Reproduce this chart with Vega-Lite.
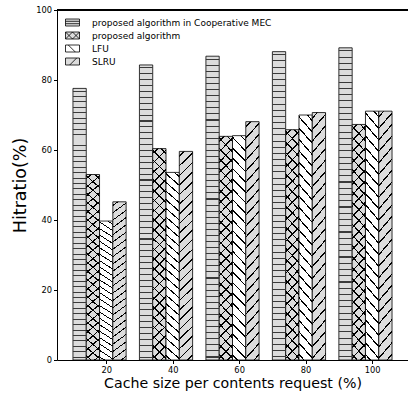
{
  "$schema": "https://vega.github.io/schema/vega-lite/v6.json",
  "width": 351,
  "height": 350,
  "autosize": "none",
  "padding": {"left": 57, "top": 10, "right": 0, "bottom": 33},
  "background": "white",
  "view": {"stroke": null},
  "config": {
    "font": "DejaVu Sans",
    "view": {"stroke": null},
    "axis": {"domainColor": "black", "tickColor": "black", "labelColor": "black", "titleColor": "black", "labelFont": "DejaVu Sans", "titleFont": "DejaVu Sans", "titleFontWeight": "normal", "grid": false}
  },
  "data": {
    "values": [
      {"cache": "20", "method": "proposed algorithm in Cooperative MEC", "hit": 77.6},
      {"cache": "20", "method": "proposed algorithm", "hit": 53.0},
      {"cache": "20", "method": "LFU", "hit": 39.7},
      {"cache": "20", "method": "SLRU", "hit": 45.2},
      {"cache": "40", "method": "proposed algorithm in Cooperative MEC", "hit": 84.3},
      {"cache": "40", "method": "proposed algorithm", "hit": 60.4},
      {"cache": "40", "method": "LFU", "hit": 53.6},
      {"cache": "40", "method": "SLRU", "hit": 59.6},
      {"cache": "60", "method": "proposed algorithm in Cooperative MEC", "hit": 86.8},
      {"cache": "60", "method": "proposed algorithm", "hit": 63.9},
      {"cache": "60", "method": "LFU", "hit": 64.1},
      {"cache": "60", "method": "SLRU", "hit": 68.1},
      {"cache": "80", "method": "proposed algorithm in Cooperative MEC", "hit": 88.1},
      {"cache": "80", "method": "proposed algorithm", "hit": 65.8},
      {"cache": "80", "method": "LFU", "hit": 70.0},
      {"cache": "80", "method": "SLRU", "hit": 70.7},
      {"cache": "100", "method": "proposed algorithm in Cooperative MEC", "hit": 89.2},
      {"cache": "100", "method": "proposed algorithm", "hit": 67.3},
      {"cache": "100", "method": "LFU", "hit": 71.1},
      {"cache": "100", "method": "SLRU", "hit": 71.1}
    ]
  },
  "encoding": {
    "x": {
      "field": "cache", "type": "nominal", "sort": ["20", "40", "60", "80", "100"],
      "scale": {"paddingInner": 0.2, "paddingOuter": 0.24},
      "axis": {"title": "Cache size per contents request (%)", "labelAngle": 0, "labelFontSize": 8.3, "tickSize": 3.5, "tickOffset": 6.65, "labelPadding": 2, "titleFontSize": 14.2, "titlePadding": 3}
    },
    "xOffset": {
      "field": "method", "type": "nominal",
      "sort": ["proposed algorithm in Cooperative MEC", "proposed algorithm", "LFU", "SLRU"],
      "scale": {"paddingInner": 0, "paddingOuter": 0}
    },
    "y": {
      "field": "hit", "type": "quantitative",
      "scale": {"domain": [0, 100], "nice": false},
      "axis": {"title": "Hitratio(%)", "values": [0, 20, 40, 60, 80, 100], "labelFontSize": 8.3, "tickSize": 3.5, "labelPadding": 2, "titleFontSize": 17.5, "titlePadding": 6}
    }
  },
  "layer": [
    {
      "mark": {"type": "bar", "stroke": "black", "strokeWidth": 0.8},
      "encoding": {
        "fill": {
          "field": "method", "type": "nominal",
          "sort": ["proposed algorithm in Cooperative MEC", "proposed algorithm", "LFU", "SLRU"],
          "scale": {"range": ["#dcdcdc", "#dcdcdc", "#ffffff", "#dcdcdc"]},
          "legend": {
            "title": null, "orient": "none", "legendX": 8, "legendY": 5, "padding": 0,
            "symbolType": "M-1,-0.5H1V0.5H-1Z", "symbolSize": 196, "symbolStrokeColor": "black", "symbolStrokeWidth": 0.8,
            "labelFontSize": 9, "labelFont": "DejaVu Sans", "labelColor": "black", "labelOffset": 12, "labelLimit": 0, "rowPadding": 0,
            "encode": {
              "symbols": {
                "update": {
                  "shape": [
                    {"test": "datum.value === 'proposed algorithm in Cooperative MEC'", "value": "M-1,-0.5H1V0.5H-1Z M-1,-0.17H1 M-1,0.17H1"},
                    {"test": "datum.value === 'proposed algorithm'", "value": "M-1,-0.5H1V0.5H-1Z M-1,-0.5L0,0.5 M-1,0.5L0,-0.5 M0,-0.5L1,0.5 M0,0.5L1,-0.5"},
                    {"test": "datum.value === 'LFU'", "value": "M-1,-0.5H1V0.5H-1Z M-0.6,-0.5L0.4,0.5"},
                    {"value": "M-1,-0.5H1V0.5H-1Z M-0.4,0.5L0.6,-0.5"}
                  ]
                }
              }
            }
          }
        }
      }
    },
    {
      "mark": {"type": "bar", "strokeWidth": 0},
      "encoding": {
        "fill": {
          "condition": [
            {"test": "datum.method === 'proposed algorithm in Cooperative MEC'", "value": {"gradient": "linear", "x1": 0, "y1": 0, "x2": 0, "y2": 1, "stops": [
              {"offset": 0, "color": "rgba(0,0,0,0)"},
              {"offset": 0.0082, "color": "rgba(0,0,0,0)"}, {"offset": 0.0082, "color": "#3a3a3a"}, {"offset": 0.0118, "color": "#3a3a3a"}, {"offset": 0.0118, "color": "rgba(0,0,0,0)"},
              {"offset": 0.0282, "color": "rgba(0,0,0,0)"}, {"offset": 0.0282, "color": "#3a3a3a"}, {"offset": 0.0318, "color": "#3a3a3a"}, {"offset": 0.0318, "color": "rgba(0,0,0,0)"},
              {"offset": 0.0482, "color": "rgba(0,0,0,0)"}, {"offset": 0.0482, "color": "#3a3a3a"}, {"offset": 0.0518, "color": "#3a3a3a"}, {"offset": 0.0518, "color": "rgba(0,0,0,0)"},
              {"offset": 0.0682, "color": "rgba(0,0,0,0)"}, {"offset": 0.0682, "color": "#3a3a3a"}, {"offset": 0.0718, "color": "#3a3a3a"}, {"offset": 0.0718, "color": "rgba(0,0,0,0)"},
              {"offset": 0.0882, "color": "rgba(0,0,0,0)"}, {"offset": 0.0882, "color": "#3a3a3a"}, {"offset": 0.0918, "color": "#3a3a3a"}, {"offset": 0.0918, "color": "rgba(0,0,0,0)"},
              {"offset": 0.1082, "color": "rgba(0,0,0,0)"}, {"offset": 0.1082, "color": "#3a3a3a"}, {"offset": 0.1118, "color": "#3a3a3a"}, {"offset": 0.1118, "color": "rgba(0,0,0,0)"},
              {"offset": 0.1282, "color": "rgba(0,0,0,0)"}, {"offset": 0.1282, "color": "#3a3a3a"}, {"offset": 0.1318, "color": "#3a3a3a"}, {"offset": 0.1318, "color": "rgba(0,0,0,0)"},
              {"offset": 0.1482, "color": "rgba(0,0,0,0)"}, {"offset": 0.1482, "color": "#3a3a3a"}, {"offset": 0.1518, "color": "#3a3a3a"}, {"offset": 0.1518, "color": "rgba(0,0,0,0)"},
              {"offset": 0.1682, "color": "rgba(0,0,0,0)"}, {"offset": 0.1682, "color": "#3a3a3a"}, {"offset": 0.1718, "color": "#3a3a3a"}, {"offset": 0.1718, "color": "rgba(0,0,0,0)"},
              {"offset": 0.1882, "color": "rgba(0,0,0,0)"}, {"offset": 0.1882, "color": "#3a3a3a"}, {"offset": 0.1918, "color": "#3a3a3a"}, {"offset": 0.1918, "color": "rgba(0,0,0,0)"},
              {"offset": 0.2082, "color": "rgba(0,0,0,0)"}, {"offset": 0.2082, "color": "#3a3a3a"}, {"offset": 0.2118, "color": "#3a3a3a"}, {"offset": 0.2118, "color": "rgba(0,0,0,0)"},
              {"offset": 0.2282, "color": "rgba(0,0,0,0)"}, {"offset": 0.2282, "color": "#3a3a3a"}, {"offset": 0.2318, "color": "#3a3a3a"}, {"offset": 0.2318, "color": "rgba(0,0,0,0)"},
              {"offset": 0.2482, "color": "rgba(0,0,0,0)"}, {"offset": 0.2482, "color": "#3a3a3a"}, {"offset": 0.2518, "color": "#3a3a3a"}, {"offset": 0.2518, "color": "rgba(0,0,0,0)"},
              {"offset": 0.2682, "color": "rgba(0,0,0,0)"}, {"offset": 0.2682, "color": "#3a3a3a"}, {"offset": 0.2718, "color": "#3a3a3a"}, {"offset": 0.2718, "color": "rgba(0,0,0,0)"},
              {"offset": 0.2882, "color": "rgba(0,0,0,0)"}, {"offset": 0.2882, "color": "#3a3a3a"}, {"offset": 0.2918, "color": "#3a3a3a"}, {"offset": 0.2918, "color": "rgba(0,0,0,0)"},
              {"offset": 0.3082, "color": "rgba(0,0,0,0)"}, {"offset": 0.3082, "color": "#3a3a3a"}, {"offset": 0.3118, "color": "#3a3a3a"}, {"offset": 0.3118, "color": "rgba(0,0,0,0)"},
              {"offset": 0.3282, "color": "rgba(0,0,0,0)"}, {"offset": 0.3282, "color": "#3a3a3a"}, {"offset": 0.3318, "color": "#3a3a3a"}, {"offset": 0.3318, "color": "rgba(0,0,0,0)"},
              {"offset": 0.3482, "color": "rgba(0,0,0,0)"}, {"offset": 0.3482, "color": "#3a3a3a"}, {"offset": 0.3518, "color": "#3a3a3a"}, {"offset": 0.3518, "color": "rgba(0,0,0,0)"},
              {"offset": 0.3682, "color": "rgba(0,0,0,0)"}, {"offset": 0.3682, "color": "#3a3a3a"}, {"offset": 0.3718, "color": "#3a3a3a"}, {"offset": 0.3718, "color": "rgba(0,0,0,0)"},
              {"offset": 0.3882, "color": "rgba(0,0,0,0)"}, {"offset": 0.3882, "color": "#3a3a3a"}, {"offset": 0.3918, "color": "#3a3a3a"}, {"offset": 0.3918, "color": "rgba(0,0,0,0)"},
              {"offset": 0.4082, "color": "rgba(0,0,0,0)"}, {"offset": 0.4082, "color": "#3a3a3a"}, {"offset": 0.4118, "color": "#3a3a3a"}, {"offset": 0.4118, "color": "rgba(0,0,0,0)"},
              {"offset": 0.4282, "color": "rgba(0,0,0,0)"}, {"offset": 0.4282, "color": "#3a3a3a"}, {"offset": 0.4318, "color": "#3a3a3a"}, {"offset": 0.4318, "color": "rgba(0,0,0,0)"},
              {"offset": 0.4482, "color": "rgba(0,0,0,0)"}, {"offset": 0.4482, "color": "#3a3a3a"}, {"offset": 0.4518, "color": "#3a3a3a"}, {"offset": 0.4518, "color": "rgba(0,0,0,0)"},
              {"offset": 0.4682, "color": "rgba(0,0,0,0)"}, {"offset": 0.4682, "color": "#3a3a3a"}, {"offset": 0.4718, "color": "#3a3a3a"}, {"offset": 0.4718, "color": "rgba(0,0,0,0)"},
              {"offset": 0.4882, "color": "rgba(0,0,0,0)"}, {"offset": 0.4882, "color": "#3a3a3a"}, {"offset": 0.4918, "color": "#3a3a3a"}, {"offset": 0.4918, "color": "rgba(0,0,0,0)"},
              {"offset": 0.5082, "color": "rgba(0,0,0,0)"}, {"offset": 0.5082, "color": "#3a3a3a"}, {"offset": 0.5118, "color": "#3a3a3a"}, {"offset": 0.5118, "color": "rgba(0,0,0,0)"},
              {"offset": 0.5282, "color": "rgba(0,0,0,0)"}, {"offset": 0.5282, "color": "#3a3a3a"}, {"offset": 0.5318, "color": "#3a3a3a"}, {"offset": 0.5318, "color": "rgba(0,0,0,0)"},
              {"offset": 0.5482, "color": "rgba(0,0,0,0)"}, {"offset": 0.5482, "color": "#3a3a3a"}, {"offset": 0.5518, "color": "#3a3a3a"}, {"offset": 0.5518, "color": "rgba(0,0,0,0)"},
              {"offset": 0.5682, "color": "rgba(0,0,0,0)"}, {"offset": 0.5682, "color": "#3a3a3a"}, {"offset": 0.5718, "color": "#3a3a3a"}, {"offset": 0.5718, "color": "rgba(0,0,0,0)"},
              {"offset": 0.5882, "color": "rgba(0,0,0,0)"}, {"offset": 0.5882, "color": "#3a3a3a"}, {"offset": 0.5918, "color": "#3a3a3a"}, {"offset": 0.5918, "color": "rgba(0,0,0,0)"},
              {"offset": 0.6082, "color": "rgba(0,0,0,0)"}, {"offset": 0.6082, "color": "#3a3a3a"}, {"offset": 0.6118, "color": "#3a3a3a"}, {"offset": 0.6118, "color": "rgba(0,0,0,0)"},
              {"offset": 0.6282, "color": "rgba(0,0,0,0)"}, {"offset": 0.6282, "color": "#3a3a3a"}, {"offset": 0.6318, "color": "#3a3a3a"}, {"offset": 0.6318, "color": "rgba(0,0,0,0)"},
              {"offset": 0.6482, "color": "rgba(0,0,0,0)"}, {"offset": 0.6482, "color": "#3a3a3a"}, {"offset": 0.6518, "color": "#3a3a3a"}, {"offset": 0.6518, "color": "rgba(0,0,0,0)"},
              {"offset": 0.6682, "color": "rgba(0,0,0,0)"}, {"offset": 0.6682, "color": "#3a3a3a"}, {"offset": 0.6718, "color": "#3a3a3a"}, {"offset": 0.6718, "color": "rgba(0,0,0,0)"},
              {"offset": 0.6882, "color": "rgba(0,0,0,0)"}, {"offset": 0.6882, "color": "#3a3a3a"}, {"offset": 0.6918, "color": "#3a3a3a"}, {"offset": 0.6918, "color": "rgba(0,0,0,0)"},
              {"offset": 0.7082, "color": "rgba(0,0,0,0)"}, {"offset": 0.7082, "color": "#3a3a3a"}, {"offset": 0.7118, "color": "#3a3a3a"}, {"offset": 0.7118, "color": "rgba(0,0,0,0)"},
              {"offset": 0.7282, "color": "rgba(0,0,0,0)"}, {"offset": 0.7282, "color": "#3a3a3a"}, {"offset": 0.7318, "color": "#3a3a3a"}, {"offset": 0.7318, "color": "rgba(0,0,0,0)"},
              {"offset": 0.7482, "color": "rgba(0,0,0,0)"}, {"offset": 0.7482, "color": "#3a3a3a"}, {"offset": 0.7518, "color": "#3a3a3a"}, {"offset": 0.7518, "color": "rgba(0,0,0,0)"},
              {"offset": 0.7682, "color": "rgba(0,0,0,0)"}, {"offset": 0.7682, "color": "#3a3a3a"}, {"offset": 0.7718, "color": "#3a3a3a"}, {"offset": 0.7718, "color": "rgba(0,0,0,0)"},
              {"offset": 0.7882, "color": "rgba(0,0,0,0)"}, {"offset": 0.7882, "color": "#3a3a3a"}, {"offset": 0.7918, "color": "#3a3a3a"}, {"offset": 0.7918, "color": "rgba(0,0,0,0)"},
              {"offset": 0.8082, "color": "rgba(0,0,0,0)"}, {"offset": 0.8082, "color": "#3a3a3a"}, {"offset": 0.8118, "color": "#3a3a3a"}, {"offset": 0.8118, "color": "rgba(0,0,0,0)"},
              {"offset": 0.8282, "color": "rgba(0,0,0,0)"}, {"offset": 0.8282, "color": "#3a3a3a"}, {"offset": 0.8318, "color": "#3a3a3a"}, {"offset": 0.8318, "color": "rgba(0,0,0,0)"},
              {"offset": 0.8482, "color": "rgba(0,0,0,0)"}, {"offset": 0.8482, "color": "#3a3a3a"}, {"offset": 0.8518, "color": "#3a3a3a"}, {"offset": 0.8518, "color": "rgba(0,0,0,0)"},
              {"offset": 0.8682, "color": "rgba(0,0,0,0)"}, {"offset": 0.8682, "color": "#3a3a3a"}, {"offset": 0.8718, "color": "#3a3a3a"}, {"offset": 0.8718, "color": "rgba(0,0,0,0)"},
              {"offset": 0.8882, "color": "rgba(0,0,0,0)"}, {"offset": 0.8882, "color": "#3a3a3a"}, {"offset": 0.8918, "color": "#3a3a3a"}, {"offset": 0.8918, "color": "rgba(0,0,0,0)"},
              {"offset": 0.9082, "color": "rgba(0,0,0,0)"}, {"offset": 0.9082, "color": "#3a3a3a"}, {"offset": 0.9118, "color": "#3a3a3a"}, {"offset": 0.9118, "color": "rgba(0,0,0,0)"},
              {"offset": 0.9282, "color": "rgba(0,0,0,0)"}, {"offset": 0.9282, "color": "#3a3a3a"}, {"offset": 0.9318, "color": "#3a3a3a"}, {"offset": 0.9318, "color": "rgba(0,0,0,0)"},
              {"offset": 0.9482, "color": "rgba(0,0,0,0)"}, {"offset": 0.9482, "color": "#3a3a3a"}, {"offset": 0.9518, "color": "#3a3a3a"}, {"offset": 0.9518, "color": "rgba(0,0,0,0)"},
              {"offset": 0.9682, "color": "rgba(0,0,0,0)"}, {"offset": 0.9682, "color": "#3a3a3a"}, {"offset": 0.9718, "color": "#3a3a3a"}, {"offset": 0.9718, "color": "rgba(0,0,0,0)"},
              {"offset": 0.9882, "color": "rgba(0,0,0,0)"}, {"offset": 0.9882, "color": "#3a3a3a"}, {"offset": 0.9918, "color": "#3a3a3a"}, {"offset": 0.9918, "color": "rgba(0,0,0,0)"},
              {"offset": 1, "color": "rgba(0,0,0,0)"}
            ]}},
            {"test": "datum.method === 'LFU' || datum.method === 'proposed algorithm'", "value": {"gradient": "linear", "x1": 0, "y1": 1, "x2": 0.0656, "y2": -0.0579, "stops": [
              {"offset": 0, "color": "rgba(0,0,0,0)"},
              {"offset": 0.0182, "color": "rgba(0,0,0,0)"}, {"offset": 0.0182, "color": "#000000"}, {"offset": 0.0252, "color": "#000000"}, {"offset": 0.0252, "color": "rgba(0,0,0,0)"},
              {"offset": 0.0617, "color": "rgba(0,0,0,0)"}, {"offset": 0.0617, "color": "#000000"}, {"offset": 0.0687, "color": "#000000"}, {"offset": 0.0687, "color": "rgba(0,0,0,0)"},
              {"offset": 0.1052, "color": "rgba(0,0,0,0)"}, {"offset": 0.1052, "color": "#000000"}, {"offset": 0.1122, "color": "#000000"}, {"offset": 0.1122, "color": "rgba(0,0,0,0)"},
              {"offset": 0.1487, "color": "rgba(0,0,0,0)"}, {"offset": 0.1487, "color": "#000000"}, {"offset": 0.1557, "color": "#000000"}, {"offset": 0.1557, "color": "rgba(0,0,0,0)"},
              {"offset": 0.1922, "color": "rgba(0,0,0,0)"}, {"offset": 0.1922, "color": "#000000"}, {"offset": 0.1992, "color": "#000000"}, {"offset": 0.1992, "color": "rgba(0,0,0,0)"},
              {"offset": 0.2356, "color": "rgba(0,0,0,0)"}, {"offset": 0.2356, "color": "#000000"}, {"offset": 0.2426, "color": "#000000"}, {"offset": 0.2426, "color": "rgba(0,0,0,0)"},
              {"offset": 0.2791, "color": "rgba(0,0,0,0)"}, {"offset": 0.2791, "color": "#000000"}, {"offset": 0.2861, "color": "#000000"}, {"offset": 0.2861, "color": "rgba(0,0,0,0)"},
              {"offset": 0.3226, "color": "rgba(0,0,0,0)"}, {"offset": 0.3226, "color": "#000000"}, {"offset": 0.3296, "color": "#000000"}, {"offset": 0.3296, "color": "rgba(0,0,0,0)"},
              {"offset": 0.3661, "color": "rgba(0,0,0,0)"}, {"offset": 0.3661, "color": "#000000"}, {"offset": 0.3731, "color": "#000000"}, {"offset": 0.3731, "color": "rgba(0,0,0,0)"},
              {"offset": 0.4095, "color": "rgba(0,0,0,0)"}, {"offset": 0.4095, "color": "#000000"}, {"offset": 0.4165, "color": "#000000"}, {"offset": 0.4165, "color": "rgba(0,0,0,0)"},
              {"offset": 0.4530, "color": "rgba(0,0,0,0)"}, {"offset": 0.4530, "color": "#000000"}, {"offset": 0.4600, "color": "#000000"}, {"offset": 0.4600, "color": "rgba(0,0,0,0)"},
              {"offset": 0.4965, "color": "rgba(0,0,0,0)"}, {"offset": 0.4965, "color": "#000000"}, {"offset": 0.5035, "color": "#000000"}, {"offset": 0.5035, "color": "rgba(0,0,0,0)"},
              {"offset": 0.5400, "color": "rgba(0,0,0,0)"}, {"offset": 0.5400, "color": "#000000"}, {"offset": 0.5470, "color": "#000000"}, {"offset": 0.5470, "color": "rgba(0,0,0,0)"},
              {"offset": 0.5835, "color": "rgba(0,0,0,0)"}, {"offset": 0.5835, "color": "#000000"}, {"offset": 0.5905, "color": "#000000"}, {"offset": 0.5905, "color": "rgba(0,0,0,0)"},
              {"offset": 0.6269, "color": "rgba(0,0,0,0)"}, {"offset": 0.6269, "color": "#000000"}, {"offset": 0.6339, "color": "#000000"}, {"offset": 0.6339, "color": "rgba(0,0,0,0)"},
              {"offset": 0.6704, "color": "rgba(0,0,0,0)"}, {"offset": 0.6704, "color": "#000000"}, {"offset": 0.6774, "color": "#000000"}, {"offset": 0.6774, "color": "rgba(0,0,0,0)"},
              {"offset": 0.7139, "color": "rgba(0,0,0,0)"}, {"offset": 0.7139, "color": "#000000"}, {"offset": 0.7209, "color": "#000000"}, {"offset": 0.7209, "color": "rgba(0,0,0,0)"},
              {"offset": 0.7574, "color": "rgba(0,0,0,0)"}, {"offset": 0.7574, "color": "#000000"}, {"offset": 0.7644, "color": "#000000"}, {"offset": 0.7644, "color": "rgba(0,0,0,0)"},
              {"offset": 0.8008, "color": "rgba(0,0,0,0)"}, {"offset": 0.8008, "color": "#000000"}, {"offset": 0.8078, "color": "#000000"}, {"offset": 0.8078, "color": "rgba(0,0,0,0)"},
              {"offset": 0.8443, "color": "rgba(0,0,0,0)"}, {"offset": 0.8443, "color": "#000000"}, {"offset": 0.8513, "color": "#000000"}, {"offset": 0.8513, "color": "rgba(0,0,0,0)"},
              {"offset": 0.8878, "color": "rgba(0,0,0,0)"}, {"offset": 0.8878, "color": "#000000"}, {"offset": 0.8948, "color": "#000000"}, {"offset": 0.8948, "color": "rgba(0,0,0,0)"},
              {"offset": 0.9313, "color": "rgba(0,0,0,0)"}, {"offset": 0.9313, "color": "#000000"}, {"offset": 0.9383, "color": "#000000"}, {"offset": 0.9383, "color": "rgba(0,0,0,0)"},
              {"offset": 0.9748, "color": "rgba(0,0,0,0)"}, {"offset": 0.9748, "color": "#000000"}, {"offset": 0.9818, "color": "#000000"}, {"offset": 0.9818, "color": "rgba(0,0,0,0)"},
              {"offset": 1, "color": "rgba(0,0,0,0)"}
            ]}}
          ],
          "value": "transparent"
        }
      }
    },
    {
      "mark": {"type": "bar", "strokeWidth": 0},
      "encoding": {
        "fill": {
          "condition": [
            {"test": "datum.method === 'SLRU' || datum.method === 'proposed algorithm'", "value": {"gradient": "linear", "x1": 0, "y1": 0, "x2": 0.0656, "y2": 1.0579, "stops": [
              {"offset": 0, "color": "rgba(0,0,0,0)"},
              {"offset": 0.0182, "color": "rgba(0,0,0,0)"}, {"offset": 0.0182, "color": "#000000"}, {"offset": 0.0252, "color": "#000000"}, {"offset": 0.0252, "color": "rgba(0,0,0,0)"},
              {"offset": 0.0617, "color": "rgba(0,0,0,0)"}, {"offset": 0.0617, "color": "#000000"}, {"offset": 0.0687, "color": "#000000"}, {"offset": 0.0687, "color": "rgba(0,0,0,0)"},
              {"offset": 0.1052, "color": "rgba(0,0,0,0)"}, {"offset": 0.1052, "color": "#000000"}, {"offset": 0.1122, "color": "#000000"}, {"offset": 0.1122, "color": "rgba(0,0,0,0)"},
              {"offset": 0.1487, "color": "rgba(0,0,0,0)"}, {"offset": 0.1487, "color": "#000000"}, {"offset": 0.1557, "color": "#000000"}, {"offset": 0.1557, "color": "rgba(0,0,0,0)"},
              {"offset": 0.1922, "color": "rgba(0,0,0,0)"}, {"offset": 0.1922, "color": "#000000"}, {"offset": 0.1992, "color": "#000000"}, {"offset": 0.1992, "color": "rgba(0,0,0,0)"},
              {"offset": 0.2356, "color": "rgba(0,0,0,0)"}, {"offset": 0.2356, "color": "#000000"}, {"offset": 0.2426, "color": "#000000"}, {"offset": 0.2426, "color": "rgba(0,0,0,0)"},
              {"offset": 0.2791, "color": "rgba(0,0,0,0)"}, {"offset": 0.2791, "color": "#000000"}, {"offset": 0.2861, "color": "#000000"}, {"offset": 0.2861, "color": "rgba(0,0,0,0)"},
              {"offset": 0.3226, "color": "rgba(0,0,0,0)"}, {"offset": 0.3226, "color": "#000000"}, {"offset": 0.3296, "color": "#000000"}, {"offset": 0.3296, "color": "rgba(0,0,0,0)"},
              {"offset": 0.3661, "color": "rgba(0,0,0,0)"}, {"offset": 0.3661, "color": "#000000"}, {"offset": 0.3731, "color": "#000000"}, {"offset": 0.3731, "color": "rgba(0,0,0,0)"},
              {"offset": 0.4095, "color": "rgba(0,0,0,0)"}, {"offset": 0.4095, "color": "#000000"}, {"offset": 0.4165, "color": "#000000"}, {"offset": 0.4165, "color": "rgba(0,0,0,0)"},
              {"offset": 0.4530, "color": "rgba(0,0,0,0)"}, {"offset": 0.4530, "color": "#000000"}, {"offset": 0.4600, "color": "#000000"}, {"offset": 0.4600, "color": "rgba(0,0,0,0)"},
              {"offset": 0.4965, "color": "rgba(0,0,0,0)"}, {"offset": 0.4965, "color": "#000000"}, {"offset": 0.5035, "color": "#000000"}, {"offset": 0.5035, "color": "rgba(0,0,0,0)"},
              {"offset": 0.5400, "color": "rgba(0,0,0,0)"}, {"offset": 0.5400, "color": "#000000"}, {"offset": 0.5470, "color": "#000000"}, {"offset": 0.5470, "color": "rgba(0,0,0,0)"},
              {"offset": 0.5835, "color": "rgba(0,0,0,0)"}, {"offset": 0.5835, "color": "#000000"}, {"offset": 0.5905, "color": "#000000"}, {"offset": 0.5905, "color": "rgba(0,0,0,0)"},
              {"offset": 0.6269, "color": "rgba(0,0,0,0)"}, {"offset": 0.6269, "color": "#000000"}, {"offset": 0.6339, "color": "#000000"}, {"offset": 0.6339, "color": "rgba(0,0,0,0)"},
              {"offset": 0.6704, "color": "rgba(0,0,0,0)"}, {"offset": 0.6704, "color": "#000000"}, {"offset": 0.6774, "color": "#000000"}, {"offset": 0.6774, "color": "rgba(0,0,0,0)"},
              {"offset": 0.7139, "color": "rgba(0,0,0,0)"}, {"offset": 0.7139, "color": "#000000"}, {"offset": 0.7209, "color": "#000000"}, {"offset": 0.7209, "color": "rgba(0,0,0,0)"},
              {"offset": 0.7574, "color": "rgba(0,0,0,0)"}, {"offset": 0.7574, "color": "#000000"}, {"offset": 0.7644, "color": "#000000"}, {"offset": 0.7644, "color": "rgba(0,0,0,0)"},
              {"offset": 0.8008, "color": "rgba(0,0,0,0)"}, {"offset": 0.8008, "color": "#000000"}, {"offset": 0.8078, "color": "#000000"}, {"offset": 0.8078, "color": "rgba(0,0,0,0)"},
              {"offset": 0.8443, "color": "rgba(0,0,0,0)"}, {"offset": 0.8443, "color": "#000000"}, {"offset": 0.8513, "color": "#000000"}, {"offset": 0.8513, "color": "rgba(0,0,0,0)"},
              {"offset": 0.8878, "color": "rgba(0,0,0,0)"}, {"offset": 0.8878, "color": "#000000"}, {"offset": 0.8948, "color": "#000000"}, {"offset": 0.8948, "color": "rgba(0,0,0,0)"},
              {"offset": 0.9313, "color": "rgba(0,0,0,0)"}, {"offset": 0.9313, "color": "#000000"}, {"offset": 0.9383, "color": "#000000"}, {"offset": 0.9383, "color": "rgba(0,0,0,0)"},
              {"offset": 0.9748, "color": "rgba(0,0,0,0)"}, {"offset": 0.9748, "color": "#000000"}, {"offset": 0.9818, "color": "#000000"}, {"offset": 0.9818, "color": "rgba(0,0,0,0)"},
              {"offset": 1, "color": "rgba(0,0,0,0)"}
            ]}}
          ],
          "value": "transparent"
        }
      }
    },
    {
      "mark": {"type": "rule", "color": "black", "strokeWidth": 1},
      "encoding": {"x": null, "xOffset": null, "y": {"datum": 100}}
    }
  ]
}
